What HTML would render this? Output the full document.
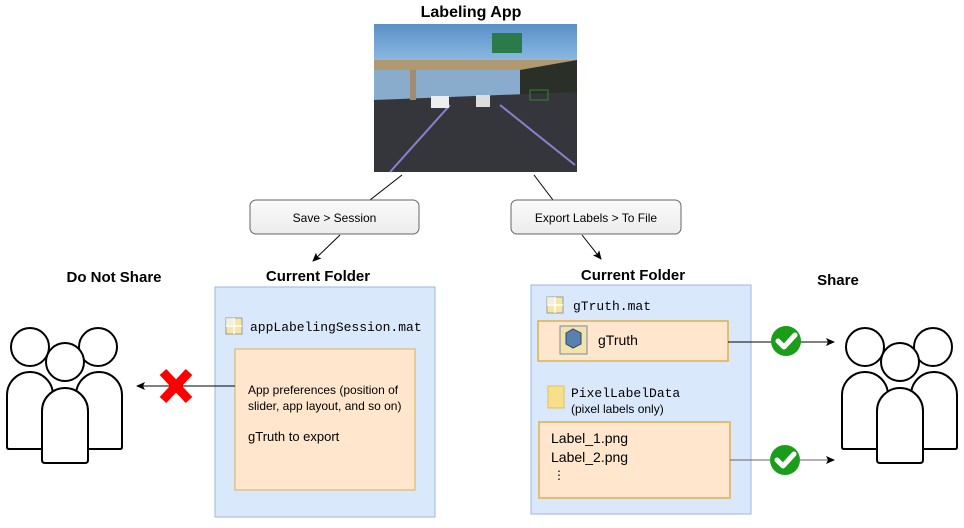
<!DOCTYPE html>
<html><head><meta charset="utf-8"><style>
html,body{margin:0;padding:0;background:#fff;}
svg{display:block;font-family:"Liberation Sans",sans-serif;}
.m{font-family:"Liberation Mono",monospace;}
</style></head><body>
<svg width="964" height="528" viewBox="0 0 964 528" xmlns="http://www.w3.org/2000/svg">
<defs>
<marker id="a" markerWidth="10" markerHeight="10" refX="8" refY="5" orient="auto" markerUnits="userSpaceOnUse"><path d="M0,1 L9,5 L0,9 L2,5 z" fill="#000"/></marker>
<linearGradient id="g" x1="0" y1="0" x2="0" y2="1"><stop offset="0" stop-color="#fafafa"/><stop offset="1" stop-color="#ececec"/></linearGradient>
<linearGradient id="sky" x1="0" y1="0" x2="0" y2="1"><stop offset="0" stop-color="#5a90c8"/><stop offset="1" stop-color="#8ab8e0"/></linearGradient>
<g id="ppl" fill="#fff" stroke="#000" stroke-width="2">
<circle cx="30" cy="347" r="19"/><circle cx="98" cy="347" r="19"/>
<path d="M7,447 L7,395 A23,23 0 0 1 53,395 L53,447 Q53,449 51,449 L9,449 Q7,449 7,447 z"/>
<path d="M76,447 L76,395 A23,23 0 0 1 122,395 L122,447 Q122,449 120,449 L78,449 Q76,449 76,447 z"/>
<circle cx="65" cy="362" r="19"/>
<path d="M42,460 L42,411 A23,23 0 0 1 88,411 L88,460 Q88,463 85,463 L45,463 Q42,463 42,460 z"/>
</g>
<g id="ok"><circle r="15" fill="#1a9e1a"/><path d="M-8,0 L-2,6 L9,-6" fill="none" stroke="#fff" stroke-width="5" stroke-linecap="round" stroke-linejoin="round"/></g>
<g id="mat"><rect x="0" y="0" width="16" height="16" fill="#f6e7a4" stroke="#9a9a9a"/><path d="M8,0 V16 M0,8 H16" stroke="#fff" stroke-width="1.5"/><rect x="0" y="0" width="8" height="8" fill="#f0f4f8" opacity="0.7"/></g>
</defs>

<text x="471" y="17" text-anchor="middle" font-size="16" font-weight="bold">Labeling App</text>
<!-- image -->
<rect x="374" y="24" width="203" height="148" fill="#3a3c44"/>
<rect x="374" y="24" width="203" height="36" fill="url(#sky)"/>
<rect x="374" y="60" width="203" height="10" fill="#b09870"/>
<rect x="374" y="70" width="203" height="30" fill="#8aaccc"/>
<polygon points="520,70 577,60 577,110 520,100" fill="#2a3028"/>
<polygon points="374,100 577,92 577,172 374,172" fill="#34363c"/>
<rect x="410" y="70" width="6" height="30" fill="#a08c70"/>
<rect x="492" y="33" width="30" height="20" fill="#2a7a4a"/>
<line x1="450" y1="105" x2="390" y2="172" stroke="#8a80d0" stroke-width="2"/>
<line x1="500" y1="105" x2="575" y2="165" stroke="#8a80d0" stroke-width="2"/>
<rect x="431" y="96" width="18" height="12" fill="#eee"/><rect x="476" y="95" width="14" height="12" fill="#ddd"/>
<rect x="530" y="90" width="18" height="10" fill="none" stroke="#2a8a2a"/>

<line x1="402" y1="175" x2="370" y2="200" stroke="#000"/>
<line x1="534" y1="175" x2="553" y2="200" stroke="#000"/>
<rect x="250" y="200" width="169" height="34" rx="6" fill="url(#g)" stroke="#666"/>
<text x="334.5" y="222" text-anchor="middle" font-size="12">Save &gt; Session</text>
<rect x="511" y="200" width="170" height="34" rx="6" fill="url(#g)" stroke="#666"/>
<text x="596" y="222" text-anchor="middle" font-size="12">Export Labels &gt; To File</text>
<line x1="340" y1="235" x2="313" y2="261" stroke="#000" marker-end="url(#a)"/>
<line x1="582" y1="235" x2="601" y2="259" stroke="#000" marker-end="url(#a)"/>

<text x="318" y="281" text-anchor="middle" font-size="15" font-weight="bold">Current Folder</text>
<text x="633" y="280" text-anchor="middle" font-size="15" font-weight="bold">Current Folder</text>
<text x="114" y="282" text-anchor="middle" font-size="15" font-weight="bold">Do Not Share</text>
<text x="838" y="285" text-anchor="middle" font-size="15" font-weight="bold">Share</text>

<!-- left folder -->
<rect x="215" y="287" width="220" height="230" fill="#dae8fc" stroke="#9db7dc"/>
<use href="#mat" x="226" y="318"/>
<text class="m" x="250" y="331" font-size="13">appLabelingSession.mat</text>
<rect x="235" y="349" width="180" height="141" fill="#ffe6cc" stroke="#dcb050"/>
<text x="248" y="394" font-size="12">App preferences (position of</text>
<text x="248" y="410" font-size="12">slider, app layout, and so on)</text>
<text x="248" y="441" font-size="13">gTruth to export</text>
<line x1="235" y1="386" x2="137" y2="386" stroke="#000" marker-end="url(#a)"/>
<path d="M163,372 L189,400 M189,372 L163,400" stroke="#f00" stroke-width="9"/>

<!-- right folder -->
<rect x="531" y="285" width="220" height="229" fill="#dae8fc" stroke="#9db7dc"/>
<use href="#mat" x="547" y="297"/>
<text class="m" x="573" y="310" font-size="13">gTruth.mat</text>
<rect x="538" y="321" width="190" height="40" fill="#ffe6cc" stroke="#dcb050" stroke-width="1.5"/>
<rect x="560" y="326" width="27" height="28" fill="#f3e3a8" stroke="#7a8aa8"/>
<path d="M566,333 L573,329 L581,333 L581,344 L573,348 L566,344 z" fill="#5a80b0" stroke="#2a4a70"/>
<text x="598" y="345" font-size="14">gTruth</text>
<rect x="548" y="386" width="16" height="22" fill="#f8e08a" stroke="#e0c060"/>
<text class="m" x="571" y="397" font-size="13">PixelLabelData</text>
<text x="571" y="413" font-size="12">(pixel labels only)</text>
<rect x="539" y="422" width="191" height="76" fill="#ffe6cc" stroke="#dcb050" stroke-width="1.5"/>
<text x="551" y="443" font-size="14">Label_1.png</text>
<text x="551" y="462" font-size="14">Label_2.png</text>
<text x="553" y="479" font-size="12">⋮</text>

<line x1="728" y1="342" x2="834" y2="342" stroke="#000" marker-end="url(#a)"/>
<use href="#ok" x="786" y="341"/>
<line x1="730" y1="460" x2="834" y2="460" stroke="#666" marker-end="url(#a)"/>
<use href="#ok" x="785" y="460"/>

<use href="#ppl"/>
<use href="#ppl" x="835"/>
</svg>
</body></html>
